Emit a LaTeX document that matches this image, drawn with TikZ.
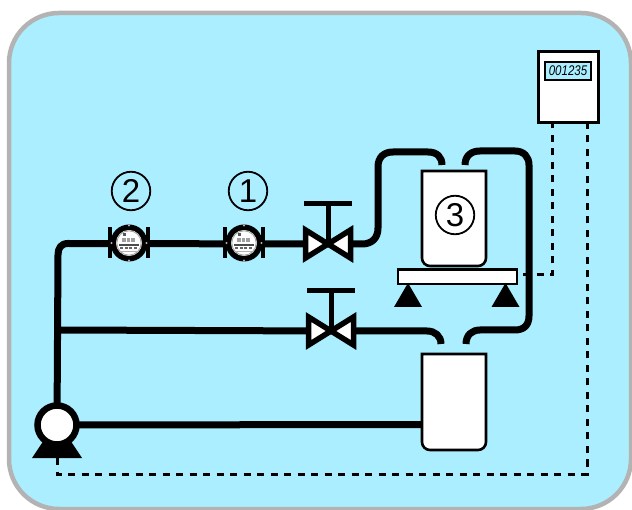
\documentclass[tikz,border=0pt]{standalone}
\usepackage{graphicx}
\usepackage{fontspec}
\setmainfont{Liberation Sans}
\definecolor{panelblue}{HTML}{AAEEFF}
\definecolor{panelrim}{HTML}{B3B3B3}
\tikzset{
 pipe/.style={draw=black,line width=7pt,line join=round},
 sig/.style={draw=black,line width=3pt,dash pattern=on 7pt off 6.5pt},
 vessel/.style={draw=black,line width=2.6pt,fill=white},
 numring/.style={circle,draw=black,line width=1.8pt,minimum size=38.5pt,inner sep=0pt,font=\fontsize{33}{33}\selectfont},
 valvepic/.pic={
  \draw[black,line width=5pt] (0,0) -- (0,-40);
  \draw[black,line width=5pt] (-24,-40) -- (24,-40);
  \draw[black,fill=white,line width=5.5pt,miter limit=8] (0,0) -- (-22.5,-14) -- (-22.5,14) -- cycle;
  \draw[black,fill=white,line width=5.5pt,miter limit=8] (0,0) -- (22.5,-14) -- (22.5,14) -- cycle;
 },
 meterpic/.pic={
  \draw[black,line width=4pt] (-19,-15.5) -- (-19,15.5);
  \draw[black,line width=4pt] (19,-15.5) -- (19,15.5);
  \fill[black] (0,0) circle (18.5);
  \foreach \a in {0,90,180,270}{\fill[gray!60] (\a:17.5) circle (1.1);}
  \fill[white] (0,0) circle (13);
  \draw[gray!70,line width=0.9pt] (0,0) circle (12.2);
  \fill[black!65] (-6,-10) rectangle (-3,-6.5);
  \foreach \x in {-7,-2.5,2}{\fill[gray!75] (\x,-5) rectangle ++(3.5,4);}
  \fill[black!70] (-10,1.5) rectangle (10,3);
  \foreach \x in {-9,-4.5,0,4.5}{\fill[gray!80!black] (\x,4.5) rectangle ++(3.2,2);}
  \draw[gray!60,line width=0.6pt] (-8,8.5) -- (8,8.5);
 }
}
\begin{document}
\begin{tikzpicture}[x=1pt,y=-1pt]
\useasboundingbox (0,0) rectangle (632,510);
\fill[white] (0,0) rectangle (632,510);
% panel
\draw[draw=panelrim,fill=panelblue,line width=4.5pt,rounded corners=50pt]
  (9,13) rectangle (631,509);

% named points
\coordinate (pumpfoot) at (57,458);
\coordinate (dl) at (57,474);
\coordinate (dr) at (587,474);
\coordinate (ctopR) at (587,124);
\coordinate (ctopL) at (552,124);
\coordinate (sc) at (552,275);
\coordinate (scaleR) at (523,275);
\coordinate (pumpc) at (57,425);
\coordinate (v1) at (328,244);
\coordinate (v2) at (331,331);
\coordinate (m2) at (129,243);
\coordinate (m1) at (244,243);

% signal lines
\draw[sig] (pumpfoot) -- (dl) -- (dr) -- (ctopR);
\draw[sig] (scaleR) -- (sc) -- (ctopL);

% pipes
\draw[pipe] (pumpc) -- (58,255) .. controls (58,248) and (61,243.5) .. (68,243.5) -- (v1);
\draw[pipe] (58,330) -- (v2);
\draw[pipe] (v1) -- (362,244) .. controls (372,244) and (378,238) .. (378,228) -- (378,167)
   .. controls (378,157) and (384,152) .. (393,152) -- (428,152) .. controls (437,152) and (442,157) .. (442,165);
\draw[pipe] (465,165) .. controls (465,156) and (471,151) .. (480,151) -- (515,151)
   .. controls (524,151) and (529,157) .. (529,165) -- (529,316)
   .. controls (529,325) and (524,330) .. (515,330) -- (480,330)
   .. controls (472,330) and (466,335) .. (466,344);
\draw[pipe] (v2) -- (427,331) .. controls (435,331) and (441,336) .. (441,344);
\draw[pipe] (pumpc) -- (423,424.5);

% vessels
\draw[vessel] (422,171) -- (486,171) -- (486,258) arc[start angle=0,end angle=90,radius=8] -- (430,266) arc[start angle=90,end angle=180,radius=8] -- cycle;
\draw[vessel] (422,354) -- (486,354) -- (486,442) arc[start angle=0,end angle=90,radius=8] -- (430,450) arc[start angle=90,end angle=180,radius=8] -- cycle;
% scale
\draw[draw=black,line width=2.6pt,fill=white] (398,269.5) rectangle (517,284);
\fill[black] (408,283) -- (422,307) -- (394,307) -- cycle;
\fill[black] (505.5,283) -- (519.5,307) -- (491.5,307) -- cycle;

% valves and meters
\pic at (v1) {valvepic};
\pic at (v2) {valvepic};
\pic at (m2) {meterpic};
\pic at (m1) {meterpic};

% pump
\fill[black] (44,440) -- (70,440) -- (82,458) -- (32,458) -- cycle;
\draw[black,fill=white,line width=6.5pt] (pumpc) circle (19.5);

% controller
\draw[draw=black,line width=3pt,fill=white] (538,52) rectangle (598,123);
\node[draw=black,line width=2.4pt,fill=panelblue,minimum width=46pt,minimum height=18.5pt,inner sep=0pt,font=\fontsize{14}{14}\selectfont\itshape] (disp) at (568,71) {\scalebox{0.82}[1]{001235}};

% labels
\node[numring] (lab2) at (131,191) {2};
\node[numring] (lab1) at (248,191) {1};
\node[numring] (lab3) at (455,215) {3};
\end{tikzpicture}
\end{document}
